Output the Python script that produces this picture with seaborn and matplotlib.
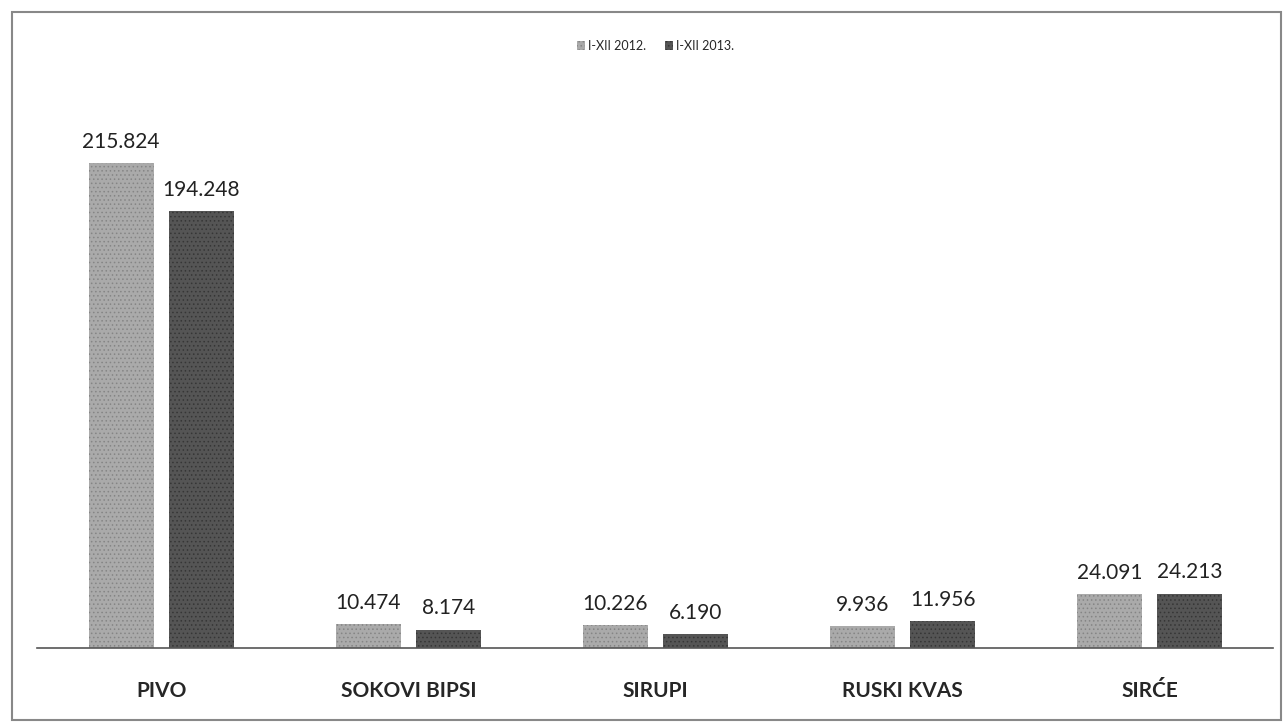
import pandas as pd
import matplotlib.pyplot as plt
import seaborn as sns
from matplotlib.patches import Rectangle, Patch

# Podaci
kategorije = ['PIVO', 'SOKOVI BIPSI', 'SIRUPI', 'RUSKI KVAS', 'SIRĆE']
serije = ['I-XII 2012.', 'I-XII 2013.']
vrijednosti_2012 = [215824, 10474, 10226, 9936, 24091]
vrijednosti_2013 = [194248, 8174, 6190, 11956, 24213]

df = pd.DataFrame({
    'Kategorija': kategorije * 2,
    'Period': [serije[0]] * 5 + [serije[1]] * 5,
    'Vrijednost': vrijednosti_2012 + vrijednosti_2013,
})

sns.set_style('white')
plt.rcParams['font.family'] = ['Lato', 'DejaVu Sans']
plt.rcParams['hatch.linewidth'] = 0.6

fig = plt.figure(figsize=(12.85, 7.24), dpi=100)
ax = fig.add_axes([0.029, 0.105, 0.962, 0.776])

boje = ['#aaaaaa', '#555555']
sns.barplot(data=df, x='Kategorija', y='Vrijednost', hue='Period',
            palette=boje, width=0.65, gap=0.19, ax=ax, legend=False)

srafure = ['....', '....']
rubovi = ['#858585', '#363636']
for i, cont in enumerate(ax.containers):
    for bar in cont:
        bar.set_hatch(srafure[i])
        bar.set_edgecolor(rubovi[i])
        bar.set_linewidth(0)
    labels = [f"{int(v):,}".replace(',', '.') for v in cont.datavalues]
    ax.bar_label(cont, labels=labels, padding=8, fontsize=15, color='#222222')

ax.set_ylim(0, 250000)
ax.set_xlim(-0.502, 4.502)
ax.set_xlabel('')
ax.set_ylabel('')
ax.set_yticks([])
ax.tick_params(axis='x', length=0, pad=24)
for lbl in ax.get_xticklabels():
    lbl.set_fontweight('bold')
    lbl.set_fontsize(15)
for s in ['top', 'right', 'left']:
    ax.spines[s].set_visible(False)
ax.spines['bottom'].set_color('#555555')
ax.spines['bottom'].set_linewidth(1.2)

# Legenda
rucke = [Patch(facecolor=boje[i], edgecolor=rubovi[i], hatch=srafure[i], linewidth=0, label=serije[i])
         for i in range(2)]
fig.legend(handles=rucke, loc='center', bbox_to_anchor=(0.51, 0.937), ncol=2, frameon=False,
           fontsize=9, handlelength=0.7, handleheight=0.7, handletextpad=0.2, columnspacing=1.5)

# Okvir
fig.patches.append(Rectangle((0.009, 0.006), 0.988, 0.978, transform=fig.transFigure,
                             fill=False, edgecolor='#888888', linewidth=1.5))

fig.savefig('out.png', dpi=100, facecolor='white')
